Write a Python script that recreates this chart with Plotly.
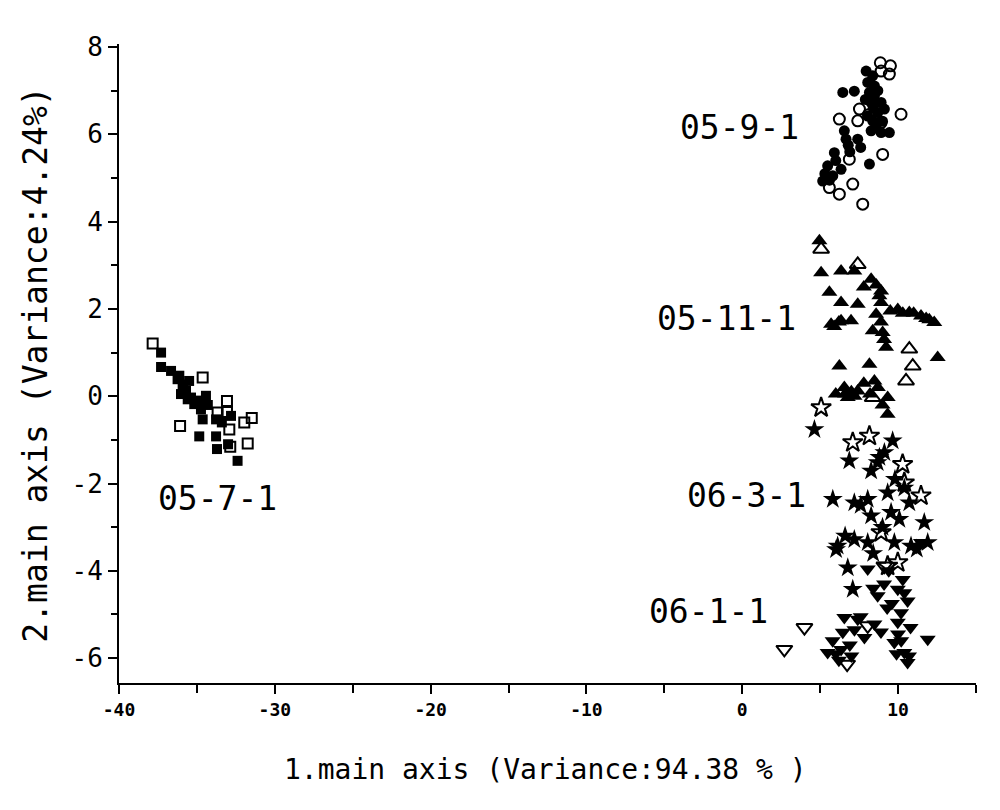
import plotly.graph_objects as go

# ---------------- data ----------------
# 05-7-1 (squares)
s0571_fill_x = [-37.30, -37.30, -36.66, -36.13, -35.91, -36.02, -35.59, -35.17, -34.42, -34.74, -34.63, -33.77,
                -32.81, -34.85, -33.77, -33.71, -32.39, -35.70, -35.38, -36.24, -34.95, -35.90, -34.30,
                -35.50, -34.90, -33.40, -33.00]
s0571_fill_y = [1.00, 0.67, 0.58, 0.47, 0.27, 0.05, -0.07, -0.18, 0.01, -0.30, -0.53, -0.53,
                -0.45, -0.92, -0.92, -1.21, -1.48, 0.12, -0.03, 0.39, -0.10, 0.20, -0.20,
                0.35, -0.15, -0.60, -1.10]
s0571_open_x = [-37.84, -34.63, -36.08, -33.07, -33.67, -32.92, -31.96, -31.48, -32.86, -31.74, -33.07]
s0571_open_y = [1.21, 0.43, -0.68, -0.11, -0.37, -0.76, -0.60, -0.50, -1.16, -1.08, -0.36]

# 05-9-1 (circles)
s0591_fill_x = [7.95, 8.37, 8.05, 8.48, 8.16, 6.45, 7.19, 8.48, 8.27, 8.91, 8.69, 9.12, 8.05, 8.37, 8.27,
                8.91, 9.44, 6.55, 6.66, 7.41, 5.91, 5.48, 6.34, 8.16, 5.16, 5.81, 7.60, 6.90, 5.30, 8.60,
                8.70, 8.40, 7.90, 6.00, 5.60, 6.80, 9.00]
s0591_fill_y = [7.45, 7.34, 7.19, 7.11, 6.96, 6.96, 6.99, 6.88, 6.73, 6.73, 6.50, 6.58, 6.42, 6.31, 6.08,
                6.04, 6.04, 6.08, 5.89, 5.89, 5.58, 5.28, 5.20, 5.32, 4.93, 5.05, 5.70, 5.60, 5.10, 6.20,
                7.00, 6.60, 6.80, 5.40, 4.95, 5.75, 6.30]
s0591_open_x = [8.86, 9.51, 9.44, 8.91, 10.19, 6.23, 7.41, 8.91, 7.52, 9.01, 6.87, 7.09, 6.23, 5.59, 7.73, 8.10]
s0591_open_y = [7.64, 7.57, 7.38, 7.45, 6.46, 6.35, 6.31, 6.27, 6.58, 5.54, 5.43, 4.86, 4.63, 4.78, 4.40, 6.45]

# 05-11-1 (triangles up)
s05111_fill_x = [4.95, 5.06, 6.34, 7.19, 8.27, 5.59, 6.34, 7.41, 8.91, 8.91, 8.59, 9.98, 10.72, 11.47, 12.32,
                 5.70, 6.34, 6.98, 8.37, 9.01, 9.23, 12.54, 6.23, 8.16, 6.55, 7.41, 8.48, 9.33, 9.33, 6.77,
                 7.80, 9.50, 11.00, 12.00, 7.00, 8.60, 8.80, 8.90, 9.10, 10.30, 11.80, 6.00, 6.60, 7.20,
                 7.80, 8.20, 8.70, 9.00, 5.90, 6.20]
s05111_fill_y = [3.56, 2.83, 2.87, 2.87, 2.68, 2.38, 2.15, 2.11, 2.41, 2.15, 1.88, 1.99, 1.92, 1.84, 1.69,
                 1.65, 1.73, 1.73, 1.50, 1.46, 1.12, 0.89, 0.69, 0.73, 0.20, 0.12, 0.35, -0.03, -0.41, -0.03,
                 2.50, 1.95, 1.90, 1.75, 0.10, 2.55, 2.30, 1.70, 1.30, 1.90, 1.78, 0.05, 0.05, 0.00,
                 0.30, 0.05, 0.20, -0.20, 1.60, 1.70]
s05111_open_x = [5.06, 7.41, 10.72, 10.94, 10.51, 8.37]
s05111_open_y = [3.37, 3.02, 1.08, 0.69, 0.35, -0.03]

# 06-3-1 (stars)
s0631_fill_x = [4.63, 5.81, 6.87, 9.65, 9.12, 8.69, 8.27, 9.33, 7.19, 8.05, 8.27, 9.55, 10.08, 10.72, 11.68,
                6.12, 7.19, 8.05, 9.76, 10.83, 11.90, 6.77, 7.09, 6.02, 9.80, 9.00, 8.80, 7.60, 10.40,
                11.20, 6.60, 8.40]
s0631_fill_y = [-0.76, -2.36, -1.48, -1.02, -1.29, -1.52, -1.71, -2.21, -2.44, -2.36, -2.74, -2.66, -2.82, -2.44, -2.89,
                -3.43, -3.28, -3.35, -3.35, -3.43, -3.35, -3.93, -4.42, -3.51, -1.90, -3.00, -1.40, -2.50, -2.10,
                -3.50, -3.20, -3.60]
s0631_open_x = [5.06, 8.16, 7.09, 10.29, 10.40, 11.47, 8.91, 9.33, 9.98]
s0631_open_y = [-0.26, -0.91, -1.06, -1.56, -1.98, -2.28, -3.12, -3.89, -3.81]

# 06-1-1 (triangles down)
s0611_fill_x = [8.05, 8.69, 9.98, 10.61, 10.19, 9.98, 6.55, 7.41, 8.48, 6.45, 7.84, 5.48, 6.34, 9.76, 10.40,
                10.61, 11.90, 11.47, 10.30, 9.40, 7.00, 9.10, 9.60, 10.40, 10.80, 6.00, 6.90, 7.60, 9.90,
                10.20, 8.90, 6.20, 8.40, 9.30, 10.00, 10.70, 7.20, 5.80]
s0611_fill_y = [-3.96, -4.57, -4.42, -4.69, -4.96, -5.18, -5.07, -5.11, -5.22, -5.41, -5.53, -5.87, -5.80, -5.64, -5.87,
                -6.10, -5.57, -3.35, -4.20, -4.00, -5.95, -4.30, -4.75, -4.50, -5.30, -5.90, -5.70, -5.05, -5.90,
                -5.60, -5.40, -6.05, -4.40, -4.85, -5.45, -5.95, -5.35, -5.60]
s0611_open_x = [3.99, 2.70, 6.73, 8.05, 9.12]
s0611_open_y = [-5.30, -5.80, -6.14, -5.26, -3.89]

# group labels
label_text = ["05-9-1", "05-11-1", "06-3-1", "06-1-1", "05-7-1"]
label_x = [3.8, 3.6, 4.2, 1.8, -37.6]
label_y = [6.15, 1.78, -2.27, -4.93, -2.34]

x_tickvals = [-40, -30, -20, -10, 0, 10]
x_ticktext = ["-40", "-30", "-20", "-10", "0", "10"]
y_tickvals = [-6, -4, -2, 0, 2, 4, 6, 8]
y_ticktext = ["-6", "-4", "-2", "0", "2", "4", "6", "8"]

# ---------------- figure ----------------
fig = go.Figure()

sizes = {"square": 10, "circle": 11, "triangle-up": 14, "star": 15, "triangle-down": 14}

def add(x, y, symbol):
    is_open = symbol.endswith("-open")
    base = symbol.replace("-open", "")
    fig.add_trace(go.Scatter(
        x=x, y=y, mode="markers", showlegend=False, hoverinfo="skip",
        marker=dict(symbol=symbol, size=sizes[base],
                    color="black",
                    line=dict(color="black", width=2 if is_open else 0))))

add(s0571_fill_x, s0571_fill_y, "square")
add(s0571_open_x, s0571_open_y, "square-open")
add(s0591_fill_x, s0591_fill_y, "circle")
add(s0591_open_x, s0591_open_y, "circle-open")
add(s05111_fill_x, s05111_fill_y, "triangle-up")
add(s05111_open_x, s05111_open_y, "triangle-up-open")
add(s0631_fill_x, s0631_fill_y, "star")
add(s0631_open_x, s0631_open_y, "star-open")
add(s0611_fill_x, s0611_fill_y, "triangle-down")
add(s0611_open_x, s0611_open_y, "triangle-down-open")

mono = "DejaVu Sans Mono, Liberation Mono, monospace"

for t, x, y in zip(label_text, label_x, label_y):
    fig.add_annotation(x=x, y=y, text=t, showarrow=False,
                       xanchor="left" if x < -30 else "right", yanchor="middle",
                       font=dict(family=mono, size=33, color="black"))

# axis titles
fig.add_annotation(xref="paper", yref="paper", x=0.498, y=-0.136, text="1.main axis (Variance:94.38 % )",
                   showarrow=False, xanchor="center", yanchor="middle",
                   font=dict(family=mono, size=28, color="black"))
fig.add_annotation(xref="paper", yref="paper", x=-0.097, y=0.498, text="2.main axis (Variance:4.24%)",
                   showarrow=False, xanchor="center", yanchor="middle", textangle=-90,
                   font=dict(family=mono, size=33, color="black"))

fig.update_xaxes(range=[-40, 15], showgrid=False, zeroline=False, automargin=False,
                 showline=True, linecolor="black", linewidth=2,
                 ticks="outside", ticklen=9, tickwidth=2, tickcolor="black",
                 tickmode="array", tickvals=x_tickvals, ticktext=x_ticktext,
                 tickfont=dict(family=mono, size=18, color="black", weight="bold"),
                 minor=dict(ticks="outside", ticklen=8, tickwidth=2, tickcolor="black", dtick=5, tick0=-40))
fig.update_yaxes(range=[-6.57, 8.07], showgrid=False, zeroline=False, automargin=False,
                 showline=True, linecolor="black", linewidth=2,
                 ticks="outside", ticklen=9, tickwidth=2, tickcolor="black",
                 tickmode="array", tickvals=y_tickvals, ticktext=y_ticktext,
                 tickfont=dict(family=mono, size=26, color="black"),
                 minor=dict(ticks="outside", ticklen=6, tickwidth=2, tickcolor="black", dtick=1, tick0=0))

# page body adds an 8px offset; compensate so the plot area lands at x 118-975, y 44-683
fig.update_layout(width=1000, height=810, plot_bgcolor="white", paper_bgcolor="white",
                  margin=dict(l=111, r=32, t=36, b=135))

fig.write_html("out.html")
